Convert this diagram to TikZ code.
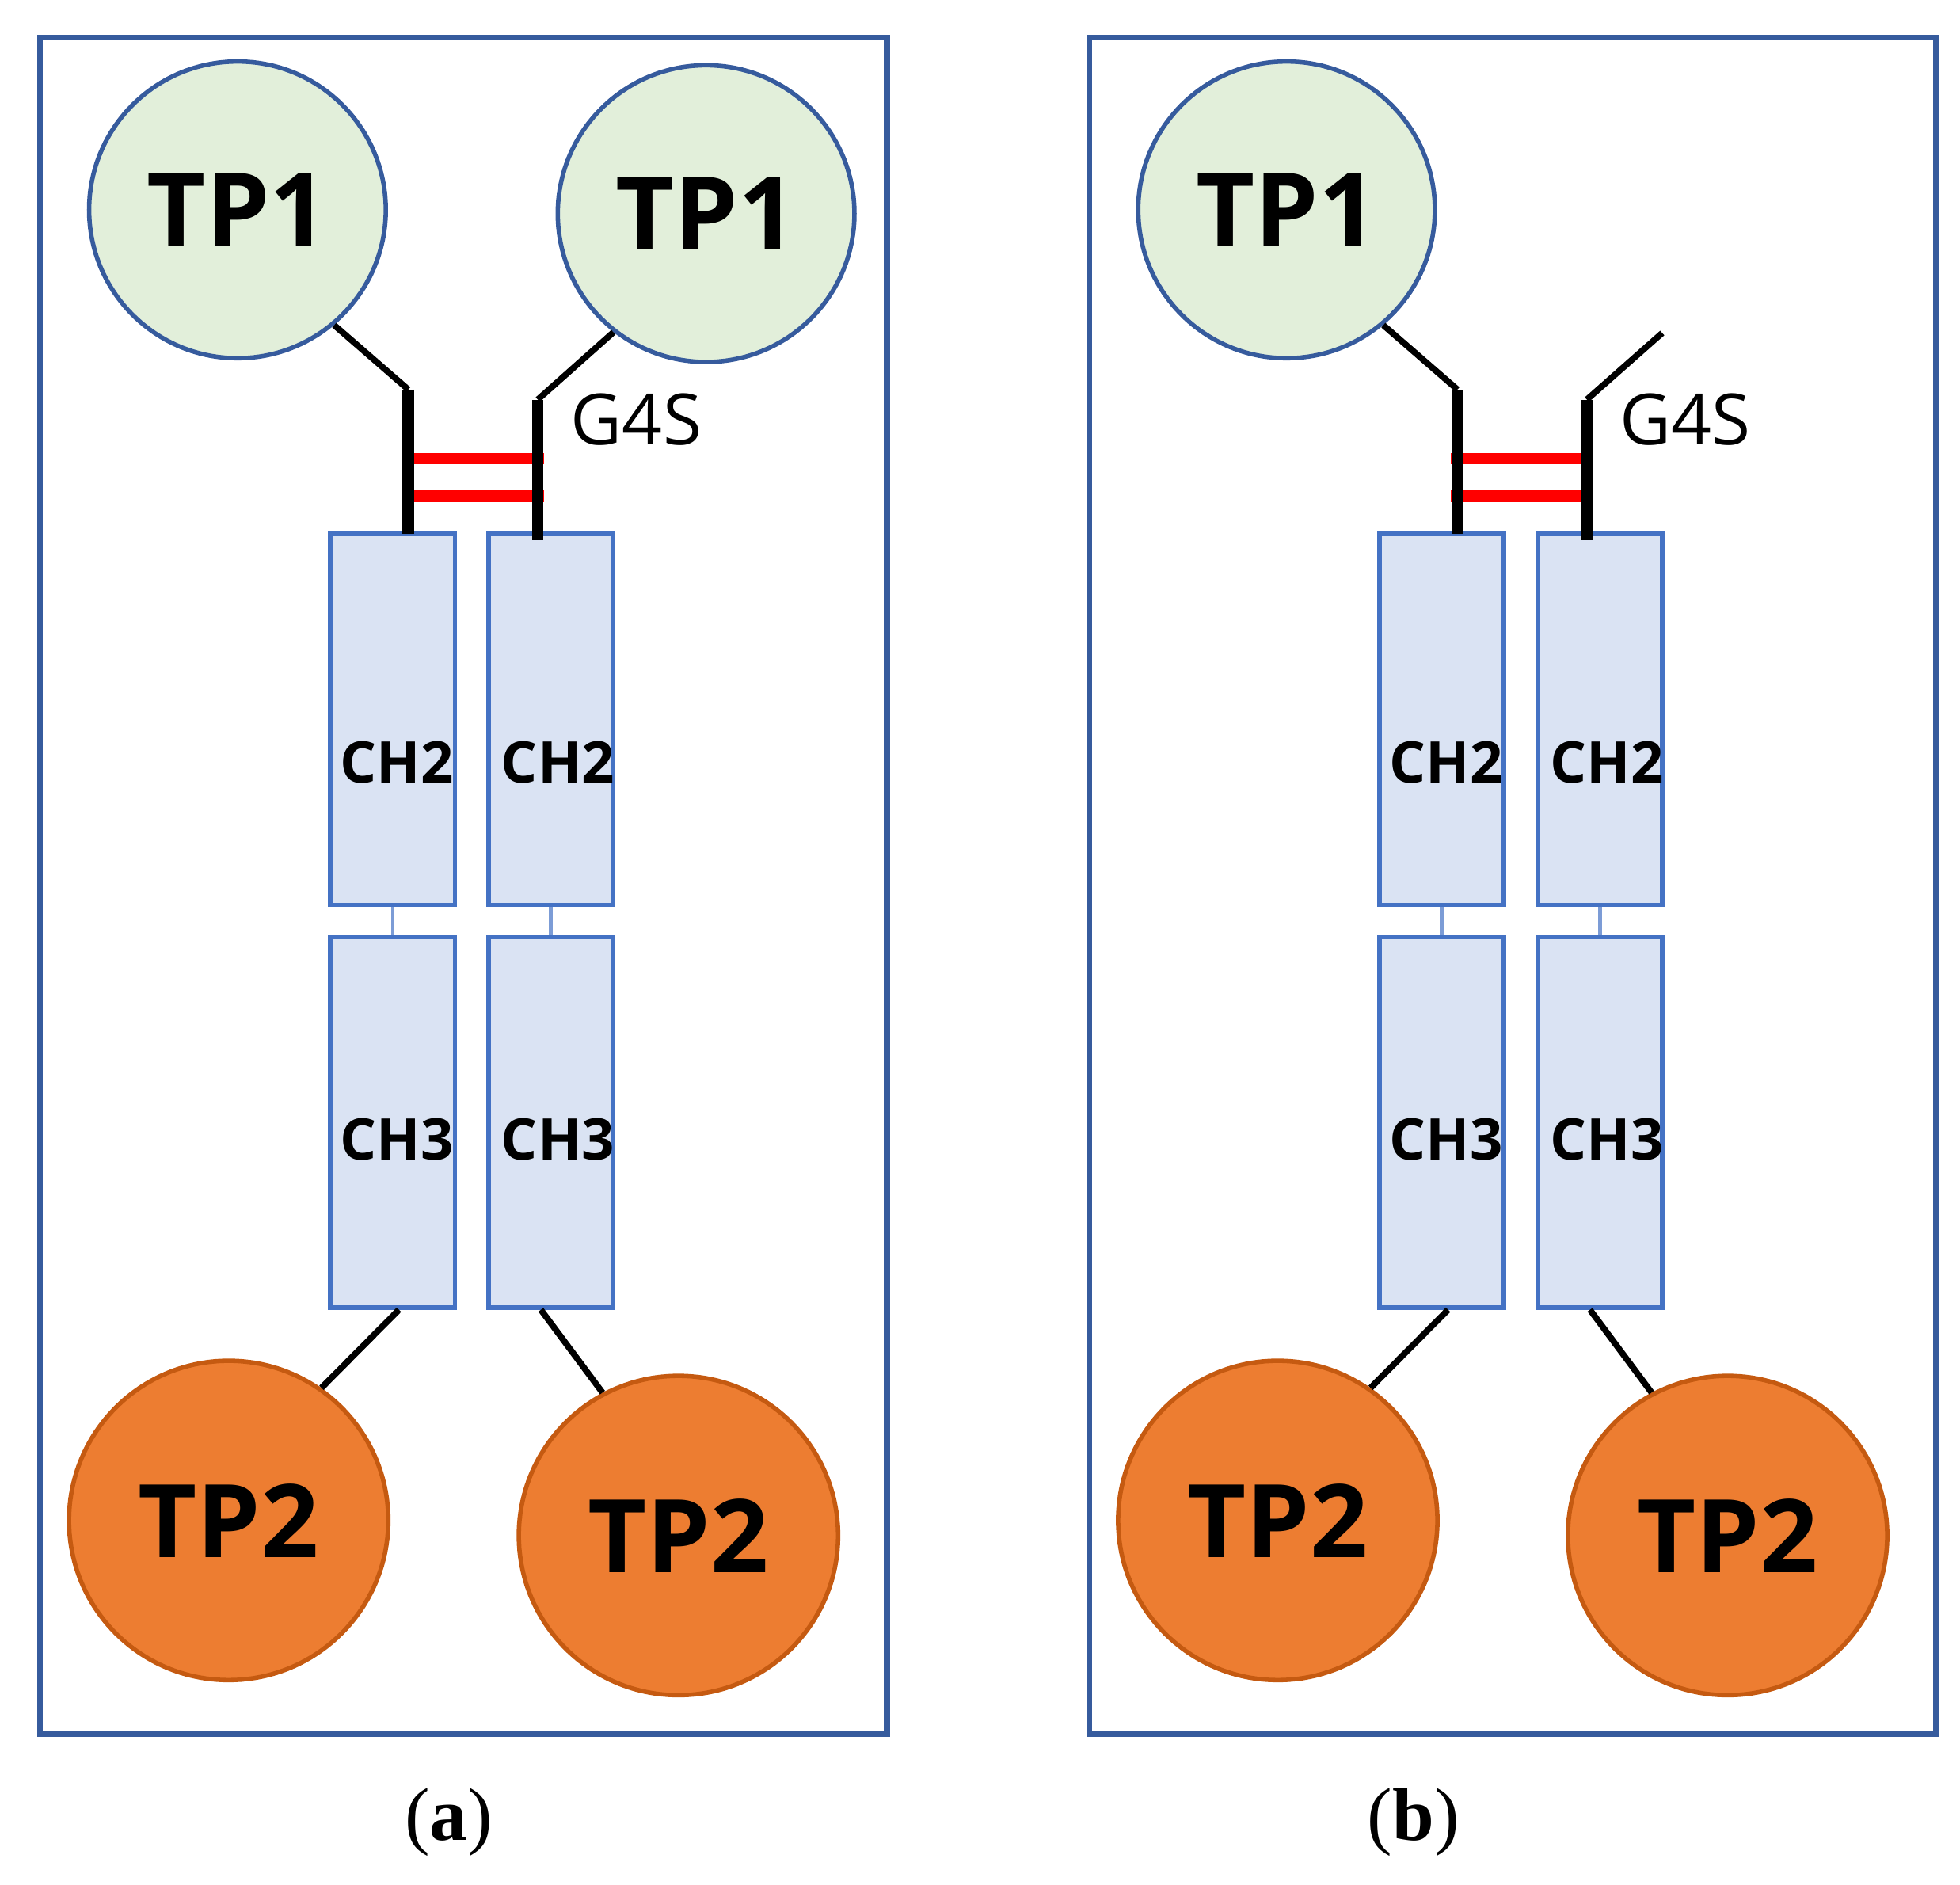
\documentclass[tikz,border=0pt]{standalone}
\usepackage{fontspec}
\setmainfont{Liberation Serif}
\newfontfamily\headfont{Open Sans}
\begin{document}
\begin{tikzpicture}[x=0.01cm,y=-0.01cm]
	% --- estilos ---
	\definecolor{frameblue}{HTML}{4472C4}
	\definecolor{tpgreen}{HTML}{E2EFDA}
	\definecolor{tporange}{HTML}{ED7D31}
	\definecolor{tpedge}{HTML}{C55A11}
	\definecolor{boxfill}{HTML}{DAE3F3}
	\tikzset{
		panel/.style  = {draw=frameblue!80!black, line width=1.3pt},
		tpone/.style  = {circle, draw=frameblue!80!black, line width=1pt, fill=tpgreen,
			minimum size=2.36cm, inner sep=0pt, font=\headfont\bfseries\fontsize{23}{23}\selectfont},
		tptwo/.style  = {circle, draw=tpedge, line width=1pt, fill=tporange,
			minimum size=2.54cm, inner sep=0pt, font=\headfont\bfseries\fontsize{23}{23}\selectfont},
		dom/.style    = {draw=frameblue, line width=1pt, fill=boxfill, minimum width=0.99cm,
			minimum height=2.95cm, inner sep=0pt},
		domlabel/.style = {font=\headfont\bfseries\fontsize{13}{13}\selectfont, inner sep=0pt},
		hinge/.style  = {line width=2.6pt, black},
		link/.style   = {line width=1.4pt, black},
		ssbond/.style = {line width=2.6pt, red},
		joint/.style  = {line width=0.8pt, frameblue!70},
	}
	\useasboundingbox (0,0) rectangle (1560,1500);
	
	% macro para un panel: #1=prefijo, #2=desplazamiento x, #3=dos TP1 (1/0)
	\newcommand{\DrawPanel}[3]{%
		\begin{scope}[xshift=#2*0.01cm]
			\draw[panel] (32,30) rectangle (706,1380);
			% dominios CH2 / CH3
			\node[dom] (#1l2) at (312.5,572.5) {};
			\node[dom] (#1r2) at (438.5,572.5) {};
			\node[dom] (#1l3) at (312.5,893) {};
			\node[dom] (#1r3) at (438.5,893) {};
			\node[domlabel] (#1tl2) at (316,607) {CH2};
			\node[domlabel] (#1tr2) at (444,607) {CH2};
			\node[domlabel] (#1tl3) at (316,907) {CH3};
			\node[domlabel] (#1tr3) at (444,907) {CH3};
			\draw[joint] (#1l2.south) -- (#1l3.north);
			\draw[joint] (#1r2.south) -- (#1r3.north);
			% bisagra
			\coordinate (#1lk) at (325,310);
			\coordinate (#1rk) at (428,318);
			\draw[ssbond] (320,365) -- (433,365);
			\draw[ssbond] (320,395) -- (433,395);
			\draw[hinge] (#1lk) -- (325,425);
			\draw[hinge] (#1rk) -- (428,430);
			\node[anchor=west, font=\headfont\fontsize{16}{16}\selectfont] (#1g) at (442,334) {G4S};
			% TP1
			\node[tpone] (#1a) at (189,167) {TP1};
			\draw[link] (#1a.-50) -- (#1lk);
			\ifnum#3=1
				\node[tpone] (#1b) at (562,170) {TP1};
				\draw[link] (#1b.-128) -- (#1rk);
			\else
				\coordinate (#1b) at (488,265);
				\draw[link] (#1b) -- (#1rk);
			\fi
			% TP2
			\node[tptwo] (#1c) at (182,1210) {TP2};
			\node[tptwo] (#1d) at (540,1222) {TP2};
			\draw[link] ([xshift=0.05cm]#1l3.south) -- (#1c.55);
			\draw[link] ([xshift=-0.08cm]#1r3.south) -- (#1d.118);
		\end{scope}
	}
	
	\DrawPanel{a}{0}{1}
	\DrawPanel{b}{835}{0}
	
	% etiquetas
	\node[font=\fontsize{17}{17}\selectfont] (la) at (357,1450) {(\textbf{a})};
	\node[font=\fontsize{17}{17}\selectfont] (lb) at (1125,1450) {(\textbf{b})};
\end{tikzpicture}
\end{document}
